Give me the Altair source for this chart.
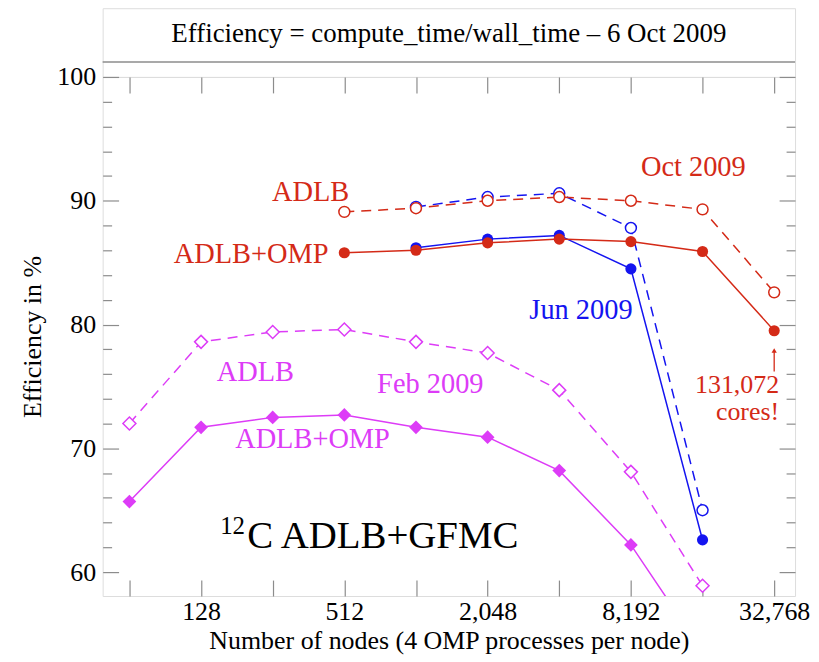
import altair as alt
import pandas as pd

# ---------------- data ----------------
nodes_all = [64, 128, 256, 512, 1024, 2048, 4096, 8192, 16384, 32768]

feb_nodes = [64, 128, 256, 512, 1024, 2048, 4096, 8192, 16384]
feb_adlb = [72.0, 78.6, 79.4, 79.6, 78.6, 77.7, 74.7, 68.1, 58.9]
feb_omp = [65.7, 71.7, 72.5, 72.7, 71.7, 70.9, 68.2, 62.2, 53.6]

jun_nodes = [1024, 2048, 4096, 8192, 16384]
jun_adlb = [89.5, 90.3, 90.6, 87.8, 65.0]
jun_omp = [86.2, 86.9, 87.2, 84.5, 62.6]

oct_nodes = [512, 1024, 2048, 4096, 8192, 16384, 32768]
oct_adlb = [89.1, 89.4, 90.0, 90.3, 90.0, 89.3, 82.6]
oct_omp = [85.8, 86.0, 86.6, 86.9, 86.7, 85.9, 79.5]

x_labels = [128, 512, 2048, 8192, 32768]
y_major = [60, 70, 80, 90, 100]
y_minor = [62, 64, 66, 68, 72, 74, 76, 78, 82, 84, 86, 88, 92, 94, 96, 98]

# annotation texts (anchored in data units)
ann_text = ["ADLB", "ADLB+OMP", "Oct 2009", "Jun 2009", "131,072", "cores!",
            "ADLB", "Feb 2009", "ADLB+OMP"]
ann_nodes = [537, 439, 9024, 3067, 34380, 34380, 149, 703, 178]
ann_value = [90.0, 84.95, 92.03, 80.44, 74.49, 72.3, 75.45, 74.49, 70.06]
ann_group = ["oct", "oct", "oct", "jun", "oct", "oct", "feb", "feb", "feb"]
ann_align = ["right", "right", "left", "left", "right", "right", "left", "left", "left"]
ann_size = [28.5, 28.5, 28.5, 28.5, 26, 26, 28.5, 28.5, 28.5]

arrow_nodes = [32768]
arrow_from = [76.2]
arrow_to = [77.9]

# ---------------- style ----------------
FONT = "Liberation Serif"
RED = "#d42a17"
BLUE = "#1414f0"
MAG = "#dd3cf7"
GRAY = "#8c8c8c"
COLORS = {"oct": RED, "jun": BLUE, "feb": MAG}
W, H = 695, 521
FS = 26

xscale = alt.Scale(type="log", base=2, domain=[49.4, 40100], nice=False)
yscale = alt.Scale(domain=[58.07, 100], nice=False, zero=False)

label_expr = ("indexof([" + ",".join(str(v) for v in x_labels) +
              "], datum.value) >= 0 ? format(datum.value, ',') : ''")

ax_x_bottom = alt.Axis(orient="bottom", values=nodes_all, tickSize=16, offset=-16,
                       domain=False, grid=False, tickColor=GRAY, tickWidth=1.2,
                       labelExpr=label_expr, labelFont=FONT, labelFontSize=FS,
                       labelColor="black", labelPadding=3, labelFlush=False,
                       labelOverlap=False, labelBound=False,
                       title="Number of nodes (4 OMP processes per node)",
                       titleFont=FONT, titleFontSize=FS, titleFontWeight="normal",
                       titleColor="black", titlePadding=3)
ax_x_top = alt.Axis(orient="top", values=nodes_all, tickSize=16, offset=-16,
                    domain=False, grid=False, tickColor=GRAY, tickWidth=1.2,
                    labels=False, title=None)
ax_y_left = alt.Axis(orient="left", values=y_major, tickSize=16, offset=-16,
                     domain=False, grid=False, tickColor=GRAY, tickWidth=1.2,
                     labelFont=FONT, labelFontSize=FS, labelColor="black",
                     labelPadding=7, labelFlush=False,
                     title="Efficiency in %", titleFont=FONT, titleFontSize=FS,
                     titleFontWeight="normal", titleColor="black", titlePadding=11)
ax_y_left_minor = alt.Axis(orient="left", values=y_minor, tickSize=9, offset=-9,
                           domain=False, grid=False, tickColor=GRAY, tickWidth=1.2,
                           labels=False, title=None)
ax_y_right = alt.Axis(orient="right", values=y_major, tickSize=16, offset=-16,
                      domain=False, grid=False, tickColor=GRAY, tickWidth=1.2,
                      labels=False, title=None)
ax_y_right_minor = alt.Axis(orient="right", values=y_minor, tickSize=9, offset=-9,
                            domain=False, grid=False, tickColor=GRAY, tickWidth=1.2,
                            labels=False, title=None)


def series_df(nodes, values):
    return pd.DataFrame({"nodes": nodes, "value": values})


def line_layer(df, color, dashed, xaxis=None, yaxis=None):
    kw = dict(color=color, strokeWidth=1.5, clip=True)
    if dashed:
        kw["strokeDash"] = [10, 7]
    return alt.Chart(df).mark_line(**kw).encode(
        x=alt.X("nodes:Q", scale=xscale, axis=xaxis),
        y=alt.Y("value:Q", scale=yscale, axis=yaxis),
    )


def point_layer(df, color, shape, open_marker, size):
    if open_marker:
        mk = alt.Chart(df).mark_point(shape=shape, filled=True, fill="white",
                                      stroke=color, strokeWidth=1.5, size=size,
                                      opacity=1, clip=True)
    else:
        mk = alt.Chart(df).mark_point(shape=shape, filled=True, color=color,
                                      size=size, opacity=1, clip=True)
    return mk.encode(
        x=alt.X("nodes:Q", scale=xscale, axis=None),
        y=alt.Y("value:Q", scale=yscale, axis=None),
    )


feb_a = series_df(feb_nodes, feb_adlb)
feb_o = series_df(feb_nodes, feb_omp)
jun_a = series_df(jun_nodes, jun_adlb)
jun_o = series_df(jun_nodes, jun_omp)
oct_a = series_df(oct_nodes, oct_adlb)
oct_o = series_df(oct_nodes, oct_omp)

layers = [
    line_layer(feb_a, MAG, True, ax_x_bottom, ax_y_left),
    line_layer(feb_o, MAG, False, ax_x_top, ax_y_left_minor),
    point_layer(feb_a, MAG, "diamond", True, 170),
    point_layer(feb_o, MAG, "diamond", False, 190),
    line_layer(jun_a, BLUE, True, None, ax_y_right),
    line_layer(jun_o, BLUE, False, None, ax_y_right_minor),
    point_layer(jun_a, BLUE, "circle", True, 120),
    point_layer(jun_o, BLUE, "circle", False, 125),
    line_layer(oct_a, RED, True),
    line_layer(oct_o, RED, False),
    point_layer(oct_a, RED, "circle", True, 120),
    point_layer(oct_o, RED, "circle", False, 125),
]

# annotations
for t, xn, yv, g, al, fs in zip(ann_text, ann_nodes, ann_value, ann_group,
                                ann_align, ann_size):
    layers.append(
        alt.Chart(pd.DataFrame({"nodes": [xn], "value": [yv], "label": [t]}))
        .mark_text(font=FONT, fontSize=fs, color=COLORS[g], align=al,
                   baseline="alphabetic")
        .encode(x=alt.X("nodes:Q", scale=xscale, axis=None),
                y=alt.Y("value:Q", scale=yscale, axis=None),
                text="label:N")
    )

# arrow to the 131,072-core point
arrow_df = pd.DataFrame({"nodes": arrow_nodes, "v1": arrow_from, "v2": arrow_to})
layers.append(
    alt.Chart(arrow_df).mark_rule(color=RED, strokeWidth=1.3).encode(
        x=alt.X("nodes:Q", scale=xscale, axis=None),
        y=alt.Y("v1:Q", scale=yscale, axis=None),
        y2="v2:Q",
    )
)
layers.append(
    alt.Chart(arrow_df).mark_point(shape="triangle-up", filled=True, color=RED,
                                   size=28, opacity=1).encode(
        x=alt.X("nodes:Q", scale=xscale, axis=None),
        y=alt.Y("v2:Q", scale=yscale, axis=None),
    )
)

# big label 12C ADLB+GFMC
big_df = pd.DataFrame({"nodes": [200], "value": [61.93], "label": ["C ADLB+GFMC"]})
sup_df = pd.DataFrame({"nodes": [154], "value": [63.1], "label": ["12"]})
layers.append(
    alt.Chart(big_df).mark_text(font=FONT, fontSize=39, color="black", align="left",
                                baseline="alphabetic").encode(
        x=alt.X("nodes:Q", scale=xscale, axis=None),
        y=alt.Y("value:Q", scale=yscale, axis=None), text="label:N")
)
layers.append(
    alt.Chart(sup_df).mark_text(font=FONT, fontSize=25, color="black", align="left",
                                baseline="alphabetic").encode(
        x=alt.X("nodes:Q", scale=xscale, axis=None),
        y=alt.Y("value:Q", scale=yscale, axis=None), text="label:N")
)

main = alt.layer(*layers).resolve_axis(x="independent", y="independent").properties(
    width=W, height=H)

# title box
title_text = ["Efficiency = compute_time/wall_time \u2013  6 Oct 2009"]
title_box = alt.layer(
    alt.Chart(pd.DataFrame({"t": title_text})).mark_text(
        font=FONT, fontSize=27, color="black", align="center", baseline="middle"
    ).encode(x=alt.value(W / 2), y=alt.value(26), text="t:N"),
    alt.Chart(pd.DataFrame({"t": title_text})).mark_rule(
        color=GRAY, strokeWidth=1.3
    ).encode(x=alt.value(0), x2=alt.value(W), y=alt.value(54)),
).properties(width=W, height=69)

chart = alt.vconcat(title_box, main, spacing=0, bounds="flush").properties(
    padding={"left": 11, "top": -2, "right": 0, "bottom": 0}
).configure_view(stroke=GRAY, strokeWidth=1.5).configure(font=FONT)

chart.save("out.html", embed_options={"renderer": "svg", "actions": False})
